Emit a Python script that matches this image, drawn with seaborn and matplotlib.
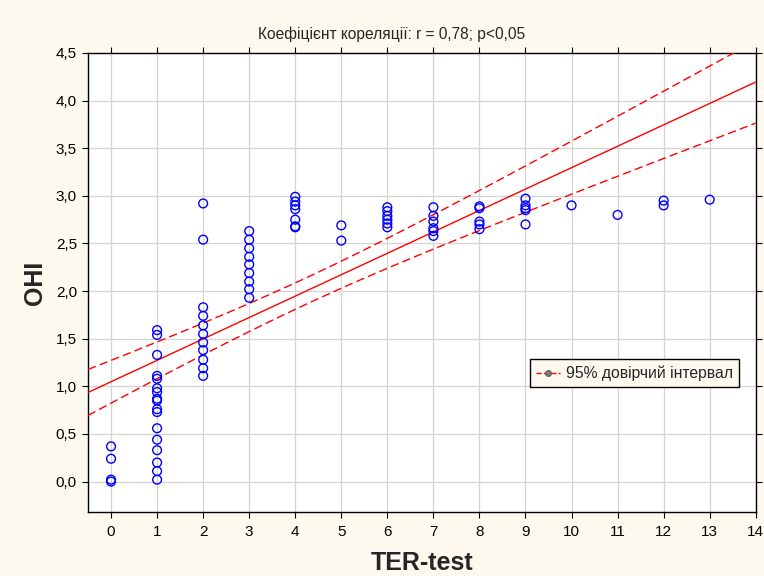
import numpy as np
import pandas as pd
import matplotlib
matplotlib.use("Agg")
import matplotlib.pyplot as plt
from matplotlib.lines import Line2D
import seaborn as sns

# ---- data ----
ter_x = ([0]*4 + [1]*17 + [2]*11 + [3]*9 + [4]*7 + [5]*2 + [6]*6 + [7]*6 +
         [8]*5 + [9]*5 + [10] + [11] + [12]*2 + [13])
ohi_y = [0.37, 0.24, 0.02, 0.00,
         1.59, 1.54, 1.33, 1.11, 1.08, 0.98, 0.94, 0.87, 0.85, 0.76, 0.73, 0.56, 0.44, 0.33, 0.20, 0.11, 0.02,
         2.92, 2.54, 1.83, 1.74, 1.64, 1.55, 1.46, 1.38, 1.28, 1.19, 1.11,
         2.63, 2.54, 2.45, 2.36, 2.28, 2.19, 2.10, 2.02, 1.93,
         2.99, 2.94, 2.90, 2.86, 2.75, 2.68, 2.67,
         2.69, 2.53,
         2.88, 2.84, 2.79, 2.75, 2.71, 2.67,
         2.88, 2.79, 2.73, 2.66, 2.63, 2.58,
         2.89, 2.87, 2.73, 2.70, 2.65,
         2.97, 2.90, 2.87, 2.85, 2.70,
         2.90,
         2.80,
         2.95, 2.90,
         2.96]
x_ticks = list(range(0, 15))
y_ticks = [0.0, 0.5, 1.0, 1.5, 2.0, 2.5, 3.0, 3.5, 4.0, 4.5]
y_ticklabels = ["0,0", "0,5", "1,0", "1,5", "2,0", "2,5", "3,0", "3,5", "4,0", "4,5"]
title = "Коефіцієнт кореляції: r = 0,78; p<0,05"
x_label = "TER-test"
y_label = "OHI"
legend_label = "95% довірчий інтервал"

df = pd.DataFrame({"TER": ter_x, "OHI": ohi_y})

# ---- regression and 95% CI of the mean ----
x = df["TER"].to_numpy(float)
y = df["OHI"].to_numpy(float)
n = len(x)
b, a = np.polyfit(x, y, 1)
resid = y - (a + b * x)
s = np.sqrt(np.sum(resid**2) / (n - 2))
sxx = np.sum((x - x.mean())**2)
t = 1.9921  # t(0.975, df=75)
xs = np.linspace(-0.5, 14, 200)
yfit = a + b * xs
half = t * s * np.sqrt(1.0 / n + (xs - x.mean())**2 / sxx)
fit_df = pd.DataFrame({"x": xs, "fit": yfit, "lo": yfit - half, "hi": yfit + half})

# ---- styling ----
sns.set_theme(style="white")
bg = "#FEF9EE"
plt.rcParams["font.family"] = ["Liberation Sans", "DejaVu Sans"]

fig = plt.figure(figsize=(7.64, 5.76), dpi=100, facecolor=bg)
ax = fig.add_axes([0.1152, 0.111, 0.874, 0.797])
ax.set_facecolor("white")

sns.lineplot(data=fit_df, x="x", y="fit", ax=ax, color="#FF0000", lw=1.0, zorder=3)
sns.lineplot(data=fit_df, x="x", y="lo", ax=ax, color="#FF0000", lw=1.0,
             dashes=False, zorder=3).lines[-1].set_dashes([6, 3])
sns.lineplot(data=fit_df, x="x", y="hi", ax=ax, color="#FF0000", lw=1.0,
             dashes=False, zorder=3).lines[-1].set_dashes([6, 3])

sns.scatterplot(data=df, x="TER", y="OHI", ax=ax, marker="o", s=40,
                facecolor="none", edgecolor="#0000FF", linewidth=1.0, zorder=4)

ax.set_xlim(-0.5, 14)
ax.set_ylim(-0.32, 4.5)
ax.set_xticks(x_ticks)
ax.set_xticklabels([str(v) for v in x_ticks], fontsize=11)
ax.set_yticks(y_ticks)
ax.set_yticklabels(y_ticklabels, fontsize=11)
ax.grid(True, color="#D4D4D4", lw=0.9)
ax.set_axisbelow(True)
for sp in ax.spines.values():
    sp.set_color("black")
    sp.set_linewidth(1.0)
ax.tick_params(axis="both", which="both", direction="out", length=4, width=0.8,
               color="black", labelcolor="black",
               bottom=True, left=True, top=True, right=True)
ax.tick_params(axis="x", pad=5)
ax.tick_params(axis="y", pad=4)

ax.set_xlabel(x_label, fontsize=18, fontweight="bold", labelpad=9)
ax.set_ylabel(y_label, fontsize=18, fontweight="bold", labelpad=6)
fig.text(392 / 764, 1 - 34 / 576, title, fontsize=11.2, ha="center", va="center")

handle = Line2D([0], [0], color="#FF0000", lw=1.0, ls="--", marker="o",
                markersize=4, markerfacecolor="#808080", markeredgecolor="#606060")
leg = ax.legend([handle], [legend_label], loc="upper left",
                bbox_to_anchor=(0.65, 0.35), fontsize=11.3, frameon=True,
                fancybox=False, handlelength=1.5, borderpad=0.4, handletextpad=0.4)
leg.get_frame().set_facecolor(bg)
leg.get_frame().set_edgecolor("black")
leg.get_frame().set_alpha(1)
leg.get_frame().set_linewidth(1.0)

fig.savefig("out.png", dpi=100, facecolor=bg)
